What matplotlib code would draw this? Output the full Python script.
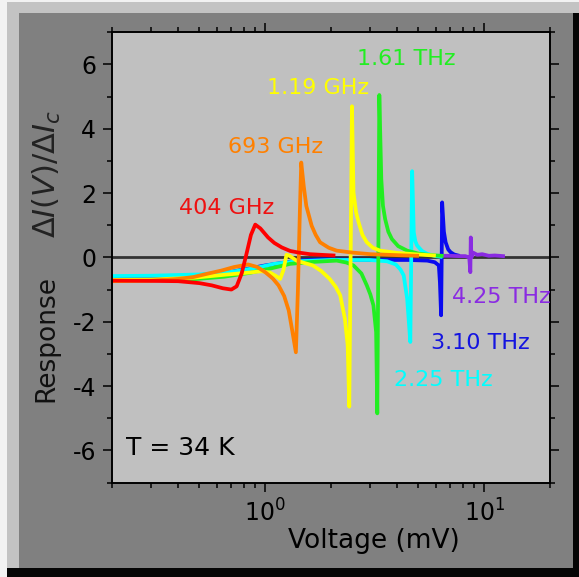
import matplotlib
matplotlib.use("Agg")
import matplotlib.pyplot as plt
from matplotlib.patches import Rectangle
from matplotlib.ticker import LogLocator, MultipleLocator, NullFormatter

plt.rcParams['font.family'] = ['DejaVu Sans']
plt.rcParams['axes.unicode_minus'] = False

# ---------------- data ----------------
red_x = [0.2, 0.3, 0.4, 0.5, 0.57, 0.64, 0.70, 0.74, 0.78, 0.82, 0.86, 0.90, 0.95,
         1.03, 1.10, 1.19, 1.30, 1.42, 1.6, 1.8, 2.05]
red_y = [-0.72, -0.73, -0.74, -0.80, -0.87, -0.96, -1.0, -0.9, -0.5, 0.1, 0.7, 1.02, 0.9,
         0.62, 0.45, 0.31, 0.2, 0.15, 0.1, 0.08, 0.06]

orange_x = [0.2, 0.3, 0.4, 0.47, 0.55, 0.63, 0.72, 0.835, 0.92, 1.0, 1.08, 1.15, 1.22,
            1.28, 1.33, 1.38, 1.41, 1.44, 1.46, 1.50, 1.54, 1.63, 1.70, 1.78, 1.95,
            2.12, 2.5, 3.02, 4.0, 4.94]
orange_y = [-0.74, -0.72, -0.67, -0.61, -0.5, -0.41, -0.3, -0.22, -0.3, -0.46, -0.65, -0.87, -1.2,
            -1.65, -2.3, -2.95, -1.0, 1.5, 2.95, 2.2, 1.6, 0.98, 0.7, 0.47, 0.3,
            0.21, 0.15, 0.1, 0.07, 0.05]

yellow_x = [0.2, 0.3, 0.475, 0.676, 0.85, 0.96, 1.05, 1.12, 1.17, 1.21, 1.25, 1.29, 1.39,
            1.52, 1.65, 1.80, 1.97, 2.1, 2.2, 2.31, 2.38, 2.42, 2.455, 2.49, 2.53, 2.60,
            2.67, 2.78, 2.91, 3.1, 3.35, 4.0, 5.0, 5.9]
yellow_y = [-0.70, -0.69, -0.63, -0.53, -0.47, -0.43, -0.47, -0.58, -0.67, -0.4, 0.08, 0.05, -0.1,
            -0.18, -0.25, -0.42, -0.67, -0.92, -1.18, -1.9, -2.73, -4.64, 0.0, 4.7, 2.02, 1.4,
            1.09, 0.7, 0.47, 0.3, 0.21, 0.14, 0.09, 0.06]

green_x = [0.2, 0.3, 0.47, 0.65, 0.85, 1.05, 1.3, 1.65, 2.12, 2.35, 2.53, 2.75, 2.91, 3.02,
           3.12, 3.21, 3.25, 3.285, 3.32, 3.39, 3.45, 3.53, 3.65, 3.79, 4.05, 4.45, 5.0, 5.7, 6.4]
green_y = [-0.72, -0.71, -0.68, -0.6, -0.48, -0.35, -0.2, -0.14, -0.1, -0.16, -0.25, -0.5, -0.87, -1.15,
           -1.49, -2.32, -4.85, 0.0, 5.05, 2.43, 1.6, 1.19, 0.8, 0.57, 0.35, 0.21, 0.12, 0.07, 0.05]

cyan_x = [0.2, 0.3, 0.5, 0.7, 0.9, 1.1, 1.4, 2.0, 3.0, 3.6, 3.95, 4.15, 4.29, 4.45, 4.6,
          4.645, 4.69, 4.77, 4.85, 4.94, 5.2, 5.5, 6.0, 6.33]
cyan_y = [-0.58, -0.57, -0.53, -0.45, -0.33, -0.2, -0.12, -0.08, -0.08, -0.12, -0.22, -0.38, -0.56, -1.28, -2.63,
          0.0, 2.68, 0.78, 0.5, 0.37, 0.2, 0.11, 0.04, 0.02]

blue_x = [0.2, 0.4, 0.7, 1.0, 1.4, 1.8, 2.5, 3.5, 4.5, 5.5, 5.95, 6.21, 6.28, 6.36, 6.40,
          6.43, 6.55, 6.67, 6.85, 7.03, 7.3, 7.6]
blue_y = [-0.68, -0.62, -0.45, -0.25, -0.1, -0.06, -0.07, -0.08, -0.08, -0.1, -0.15, -0.25, -0.77, -1.8, 0.0,
          1.71, 0.8, 0.47, 0.25, 0.16, 0.09, 0.06]

purple_x = [6.45, 7.0, 7.6, 8.2, 8.55, 8.65, 8.69, 8.75, 8.9, 9.3, 9.8, 10.5, 11.2, 12.2]
purple_y = [0.05, 0.05, 0.04, 0.04, 0.0, -0.46, 0.62, 0.0, 0.15, 0.08, 0.1, 0.05, 0.06, 0.04]

labels = ['404 GHz', '693 GHz', '1.19 GHz', '1.61 THz', '2.25 THz', '3.10 THz', '4.25 THz']
temperature_label = 'T = 34 K'

# ---------------- styles / layout ----------------
W, H = 579, 577
fig = plt.figure(figsize=(W / 100, H / 100), dpi=100)
fig.patch.set_facecolor('#c3c3c3')

def px_rect(x0, y0, x1, y1, color):
    fig.patches.append(Rectangle((x0 / W, 1 - y1 / H), (x1 - x0) / W, (y1 - y0) / H,
                                 transform=fig.transFigure, facecolor=color,
                                 edgecolor='none', zorder=-10))

px_rect(0, 0, 7, H, '#f2f2f2')
px_rect(0, 0, W, 2, '#f2f2f2')
px_rect(19, 13, 573, 568, '#808080')
px_rect(573, 13, W, H, '#050505')
px_rect(7, 568, W, H, '#050505')

ax = fig.add_axes([112.3 / W, 1 - 482.5 / H, 437.7 / W, 450.2 / H])
ax.set_facecolor('#c0c0c0')
ax.set_xscale('log')
ax.set_xlim(0.2, 20)
ax.set_ylim(-7, 7)

ax.axhline(0, color='#333333', lw=2, zorder=1)

series = [
    (blue_x, blue_y, '#0a0af0'),
    (purple_x, purple_y, '#8a2be2'),
    (cyan_x, cyan_y, '#00ffff'),
    (green_x, green_y, '#22ee22'),
    (yellow_x, yellow_y, '#ffff00'),
    (orange_x, orange_y, '#ff8000'),
    (red_x, red_y, '#ff0000'),
]
for xs, ys, c in series:
    ax.plot(xs, ys, color=c, lw=2.7, solid_joinstyle='round', zorder=2)

label_colors = ['#ee1111', '#ff8000', '#ffff00', '#22ee22', '#00ffff', '#1414e0', '#8a2be2']
label_pos = [(0.665, 1.54), (1.12, 3.43), (1.745, 5.26), (4.41, 6.17),
             (6.49, -3.81), (9.61, -2.66), (12.0, -1.22)]
for txt, c, (lx, ly) in zip(labels, label_colors, label_pos):
    ax.text(lx, ly, txt, color=c, fontsize=16, ha='center', va='center', zorder=3)

ax.text(0.411, -5.93, temperature_label, color='black', fontsize=18, ha='center', va='center')

# ticks
ax.xaxis.set_major_locator(LogLocator(base=10, numticks=10))
ax.xaxis.set_minor_locator(LogLocator(base=10, subs=range(2, 10), numticks=20))
ax.xaxis.set_minor_formatter(NullFormatter())
ax.yaxis.set_major_locator(MultipleLocator(2))
ax.yaxis.set_minor_locator(MultipleLocator(1))
ax.tick_params(which='both', direction='out', top=True, right=True, width=1.1, color='black')
ax.tick_params(which='major', length=6.5)
ax.tick_params(which='minor', length=3.5)
ax.tick_params(axis='y', labelsize=17, pad=5)
ax.tick_params(axis='x', labelsize=17, pad=6)
for s in ax.spines.values():
    s.set_linewidth(1.4)

ax.set_xlabel('Voltage (mV)', fontsize=19)
ax.xaxis.set_label_coords(0.597, -0.1)
ax.set_ylabel('Response', fontsize=19, color='#111111')
ax.yaxis.set_label_coords(-0.12, 0.319)
fig.text(47 / W, 1 - 173.5 / H, '$\\mathit{\\Delta I(V)/\\Delta I_c}$', fontsize=22,
         color='#222222', rotation=90, ha='center', va='center')

fig.savefig('out.png', dpi=100, facecolor=fig.get_facecolor())
